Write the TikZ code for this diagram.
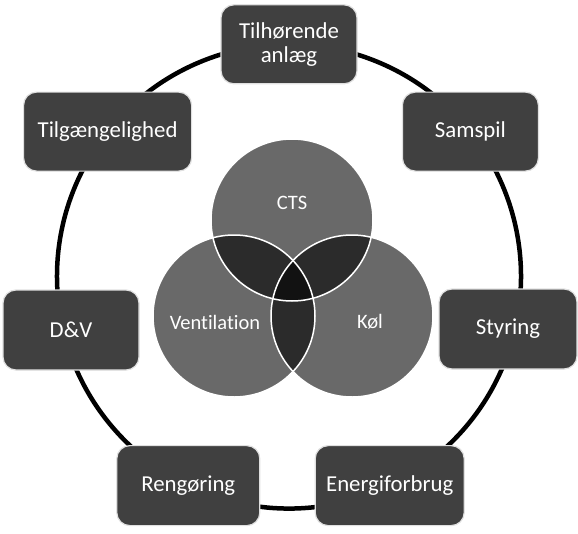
\documentclass[tikz,border=0pt]{standalone}
\usepackage{fontspec}
\setmainfont[Ligatures=NoCommon]{Carlito}
\definecolor{boxgray}{HTML}{404040}
\pgfdeclarelayer{background}
\pgfsetlayers{background,main}
\begin{document}
\begin{tikzpicture}[x=1pt,y=-1pt,
  box/.style={rectangle, rounded corners=13pt, fill=boxgray, draw=black!12, line width=1.2pt,
    text=white, minimum width=136pt, minimum height=79pt, align=center,
    font=\fontsize{22.8}{24}\selectfont, inner sep=2pt},
  link/.style={line width=4.5pt, draw=black},
  venn/.style={fill=black, fill opacity=0.59},
  vennline/.style={draw=white, line width=1.5pt},
  vlabel/.style={text=white, font=\fontsize{20.5}{23}\selectfont}]
\useasboundingbox (0,0) rectangle (578,533);

% Venn circles
\fill[venn] (292,220) circle (81pt);
\fill[venn] (234,316) circle (81pt);
\fill[venn] (352,316) circle (81pt);
\draw[vennline] (292,220) circle (81pt);
\draw[vennline] (234,316) circle (81pt);
\draw[vennline] (352,316) circle (81pt);
\node[vlabel] (cts) at (292,203) {CTS};
\node[vlabel] (vent) at (215,322) {Ventilation};
\node[vlabel] (kol) at (370,322) {Køl};

% Boxes around the ring (ring centre (289,276.3), radius 232)
\node[box] (T)  at (289,44.3) {Tilhørende\\anlæg};
\node[box] (S)  at (470.4,131.6) {Samspil};
\node[box, minimum width=138pt, minimum height=80pt] (St) at (508,329) {Styring};
\node[box, minimum width=149pt, minimum height=80pt] (E)  at (389.7,485.6) {Energiforbrug};
\node[box, minimum width=143pt, minimum height=80pt] (R)  at (188.3,485.6) {Rengøring};
\node[box, minimum height=80pt] (D)  at (71,330) {D\&V};
\node[box, minimum width=168pt] (Tg) at (107.6,131.6) {Tilgængelighed};

% Ring connectors (arcs of the ring, hidden under the boxes at their ends)
\begin{pgfonlayer}{background}
\draw[link] (T.center)  arc[start angle=90,     end angle=38.57,   radius=232pt];
\draw[link] (S.center)  arc[start angle=38.57,  end angle=-12.86,  radius=232pt];
\draw[link] (E.center)  arc[start angle=-64.29, end angle=-12.86,  radius=232pt];
\draw[link] (E.center)  arc[start angle=-64.29, end angle=-115.71, radius=232pt];
\draw[link] (R.center)  arc[start angle=-115.71,end angle=-167.14, radius=232pt];
\draw[link] (Tg.center) arc[start angle=141.43, end angle=192.86,  radius=232pt];
\draw[link] (Tg.center) arc[start angle=141.43, end angle=90,      radius=232pt];
\end{pgfonlayer}
\end{tikzpicture}
\end{document}
